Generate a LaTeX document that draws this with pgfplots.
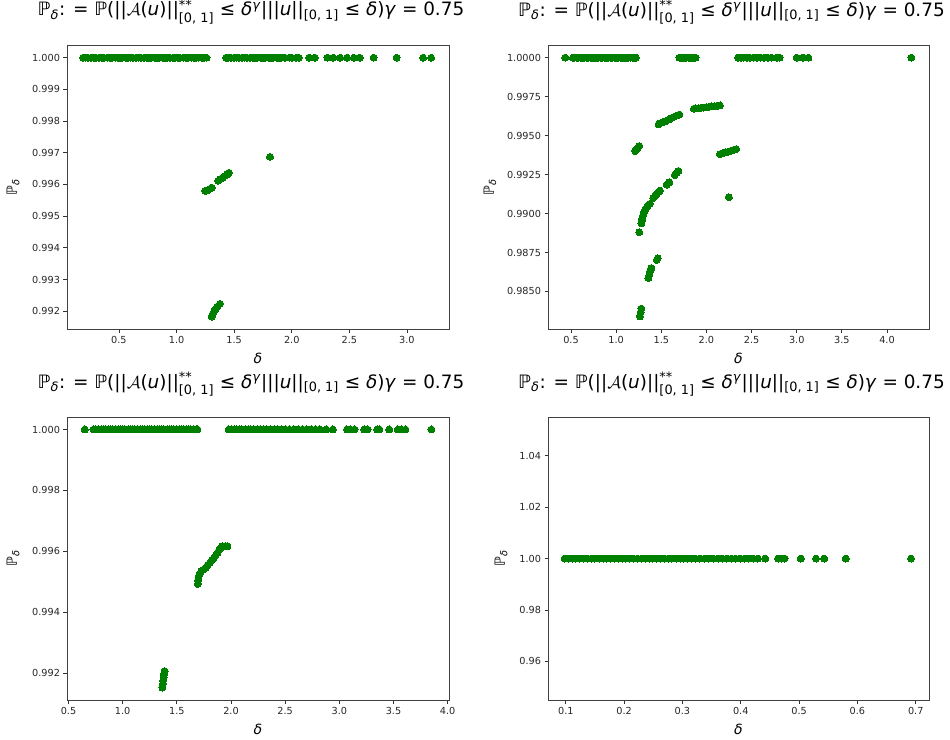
\documentclass[border=0pt]{standalone}
\usepackage{amsmath,amssymb}
\usepackage{fontspec}
\setmainfont{DejaVu Sans}
\usepackage{pgfplots}
\pgfplotsset{compat=1.18}

\definecolor{mplgreen}{HTML}{008000}

\newcommand{\dl}{\textit{δ}}
\newcommand{\gm}{\textit{γ}}
\newcommand{\ttl}{ℙ$_{\text{\dl}}$: = ℙ(||$\mathcal{A}$(\textit{u})||$^{\text{**}}_{\text{[0, 1]}}$ ≤ \dl$^{\text{\gm}}$|||\textit{u}||$_{\text{[0, 1]}}$ ≤ \dl)\gm{} = 0.75}

\pgfplotsset{
  mpl/.style={
    scale only axis,
    axis line style={black!75, line width=0.9pt},
    tick style={black!80, line width=0.8pt},
    tick align=outside, major tick length=3.5pt,
    xtick pos=bottom, ytick pos=left,
    ticklabel style={font=\fontsize{9.7}{11}\selectfont, text=black!85},
    /pgf/number format/assume math mode=true,
    scaled ticks=false,
    xlabel={\dl}, ylabel={ℙ$_{\text{\dl}}$},
    label style={font=\fontsize{14}{16}\selectfont},
    xlabel style={at={(axis description cs:0.5,0)}, anchor=base, yshift=-34pt},
    title={\ttl},
    title style={font=\fontsize{18.4}{21}\selectfont, at={(axis description cs:0.5,1)},
      anchor=base, yshift=23pt, xshift=-7pt, inner sep=0pt},
  },
  dots/.style={only marks, mark=*, mark size=3.5pt,
    mark options={fill=mplgreen, draw=mplgreen, line width=0pt}},
}

\begin{document}
\begin{tikzpicture}
\path[use as bounding box] (0,0) rectangle (950pt,-739pt);

% ---------- top left ----------
\begin{axis}[mpl, at={(67pt,-329pt)}, anchor=south west, width=382pt, height=284pt,
  xmin=0.049, xmax=3.365, ymin=0.99144, ymax=1.0004,
  xtick={0.5,1.0,1.5,2.0,2.5,3.0},
  ytick={0.992,0.993,0.994,0.995,0.996,0.997,0.998,0.999,1.000},
  xticklabel style={/pgf/number format/.cd, fixed, fixed zerofill, precision=1},
  yticklabel style={/pgf/number format/.cd, fixed, fixed zerofill, precision=3},
  ylabel style={at={(axis description cs:-0.131,0.5)}, anchor=base}]
\addplot[dots] coordinates {
(0.19,1)(0.21,1)(0.23,1)(0.26,1)(0.28,1)(0.30,1)(0.33,1)(0.35,1)(0.37,1)(0.40,1)
(0.42,1)(0.44,1)(0.47,1)(0.49,1)(0.51,1)(0.53,1)(0.56,1)(0.58,1)(0.60,1)(0.62,1)
(0.65,1)(0.67,1)(0.69,1)(0.72,1)(0.74,1)(0.76,1)(0.78,1)(0.81,1)(0.83,1)(0.85,1)
(0.88,1)(0.90,1)(0.92,1)(0.94,1)(0.97,1)(0.99,1)(1.01,1)(1.03,1)(1.06,1)(1.08,1)
(1.10,1)(1.13,1)(1.15,1)(1.17,1)(1.19,1)(1.22,1)(1.24,1)(1.26,1)
(1.43,1)(1.45,1)(1.47,1)(1.50,1)(1.52,1)(1.54,1)(1.57,1)(1.59,1)(1.61,1)(1.64,1)
(1.66,1)(1.68,1)(1.70,1)(1.73,1)(1.75,1)(1.77,1)(1.80,1)(1.82,1)(1.84,1)(1.87,1)
(1.89,1)(1.91,1)(1.94,1)(1.98,1)(2.00,1)(2.04,1)(2.06,1)(2.15,1)(2.20,1)
(2.31,1)(2.36,1)(2.42,1)(2.48,1)(2.54,1)(2.59,1)(2.71,1)(2.91,1)(3.14,1)(3.21,1)
(1.25,0.99580)(1.27,0.99582)(1.29,0.99586)(1.305,0.99590)
(1.36,0.99612)(1.38,0.99617)(1.40,0.99622)(1.42,0.99627)(1.44,0.99632)(1.455,0.99637)
(1.305,0.99183)(1.315,0.99192)(1.325,0.99200)(1.34,0.99208)(1.355,0.99215)(1.375,0.99223)
(1.811,0.99687)
};
\end{axis}

% ---------- top right ----------
\begin{axis}[mpl, at={(548pt,-329pt)}, anchor=south west, width=381pt, height=284pt,
  xmin=0.245, xmax=4.465, ymin=0.98259, ymax=1.00081,
  xtick={0.5,1.0,1.5,2.0,2.5,3.0,3.5,4.0},
  ytick={0.985,0.9875,0.99,0.9925,0.995,0.9975,1.0},
  xticklabel style={/pgf/number format/.cd, fixed, fixed zerofill, precision=1},
  yticklabel style={/pgf/number format/.cd, fixed, fixed zerofill, precision=4},
  ylabel style={at={(axis description cs:-0.142,0.5)}, anchor=base}]
\addplot[dots] coordinates {
(0.437,1)(0.52,1)(0.54,1)(0.56,1)(0.58,1)(0.61,1)(0.63,1)(0.65,1)(0.67,1)(0.69,1)
(0.72,1)(0.74,1)(0.76,1)(0.78,1)(0.80,1)(0.83,1)(0.85,1)(0.87,1)(0.89,1)(0.91,1)
(0.94,1)(0.96,1)(0.98,1)(1.00,1)(1.02,1)(1.05,1)(1.07,1)(1.09,1)(1.11,1)(1.13,1)
(1.16,1)(1.18,1)(1.20,1)(1.22,1)
(1.70,1)(1.72,1)(1.74,1)(1.76,1)(1.78,1)(1.80,1)(1.82,1)(1.84,1)(1.86,1)(1.88,1)
(2.35,1)(2.38,1)(2.41,1)(2.45,1)(2.48,1)(2.52,1)(2.56,1)(2.60,1)(2.64,1)(2.68,1)
(2.72,1)(2.78,1)(2.81,1)(3.00,1)(3.07,1)(3.13,1)(4.27,1)
(1.86,0.99672)(1.88,0.99674)(1.91,0.99676)(1.94,0.99678)(1.97,0.99680)(2.00,0.99682)
(2.03,0.99685)(2.06,0.99687)(2.09,0.99689)(2.12,0.99691)(2.15,0.99693)
(1.47,0.99573)(1.49,0.99580)(1.52,0.99587)(1.55,0.99593)(1.58,0.99602)(1.61,0.99612)
(1.64,0.99620)(1.67,0.99628)(1.70,0.99635)
(1.21,0.99401)(1.225,0.99412)(1.24,0.99423)(1.256,0.99433)
(2.15,0.99381)(2.18,0.99386)(2.21,0.99392)(2.24,0.99397)(2.27,0.99402)(2.30,0.99408)(2.33,0.99413)
(1.65,0.99247)(1.67,0.99260)(1.69,0.99273)
(1.56,0.99185)(1.59,0.99200)
(1.41,0.99098)(1.43,0.99112)(1.45,0.99128)(1.47,0.99140)(1.485,0.99147)
(1.28,0.98938)(1.29,0.98965)(1.30,0.98990)(1.31,0.99010)(1.325,0.99030)(1.345,0.99045)(1.37,0.99061)
(1.256,0.98880)
(1.45,0.98702)(1.46,0.98712)
(1.356,0.98586)(1.365,0.98605)(1.375,0.98630)(1.39,0.98650)
(1.263,0.98340)(1.27,0.98365)(1.28,0.98390)
(2.249,0.99104)
};
\end{axis}

% ---------- bottom left ----------
\begin{axis}[mpl, at={(67pt,-700pt)}, anchor=south west, width=382pt, height=283pt,
  xmin=0.486, xmax=4.012, ymin=0.99112, ymax=1.00041,
  xtick={0.5,1.0,1.5,2.0,2.5,3.0,3.5,4.0},
  ytick={0.992,0.994,0.996,0.998,1.000},
  xticklabel style={/pgf/number format/.cd, fixed, fixed zerofill, precision=1},
  yticklabel style={/pgf/number format/.cd, fixed, fixed zerofill, precision=3},
  ylabel style={at={(axis description cs:-0.131,0.5)}, anchor=base}]
\addplot[dots] coordinates {
(0.65,1)(0.73,1)(0.75,1)(0.78,1)(0.80,1)(0.82,1)(0.84,1)(0.87,1)(0.89,1)(0.91,1)
(0.93,1)(0.96,1)(0.98,1)(1.00,1)(1.02,1)(1.05,1)(1.07,1)(1.09,1)(1.11,1)(1.14,1)
(1.16,1)(1.18,1)(1.20,1)(1.23,1)(1.25,1)(1.27,1)(1.29,1)(1.32,1)(1.34,1)(1.36,1)
(1.38,1)(1.41,1)(1.43,1)(1.45,1)(1.47,1)(1.50,1)(1.52,1)(1.54,1)(1.56,1)(1.59,1)
(1.61,1)(1.63,1)(1.65,1)(1.68,1)(1.69,1)
(1.98,1)(2.00,1)(2.03,1)(2.05,1)(2.08,1)(2.10,1)(2.13,1)(2.16,1)(2.18,1)(2.21,1)
(2.24,1)(2.27,1)(2.30,1)(2.33,1)(2.36,1)(2.40,1)(2.43,1)(2.47,1)(2.50,1)(2.54,1)
(2.58,1)(2.62,1)(2.66,1)(2.70,1)(2.74,1)(2.78,1)(2.82,1)(2.88,1)(2.94,1)
(3.07,1)(3.10,1)(3.14,1)(3.23,1)(3.26,1)(3.35,1)(3.37,1)(3.46,1)(3.54,1)(3.57,1)
(3.61,1)(3.85,1)
(1.367,0.99153)(1.370,0.99165)(1.373,0.99176)(1.377,0.99187)(1.381,0.99197)(1.386,0.99207)
(1.693,0.99493)(1.695,0.99505)(1.700,0.99516)(1.710,0.99526)(1.725,0.99535)(1.745,0.99540)
(1.765,0.99546)(1.785,0.99555)(1.805,0.99563)(1.822,0.99571)(1.84,0.99578)(1.86,0.99588)
(1.875,0.99595)(1.89,0.99604)(1.905,0.99612)(1.92,0.99617)(1.945,0.99617)(1.967,0.99617)
};
\end{axis}

% ---------- bottom right ----------
\begin{axis}[mpl, at={(548pt,-700pt)}, anchor=south west, width=381pt, height=283pt,
  xmin=0.0695, xmax=0.7227, ymin=0.945, ymax=1.055,
  xtick={0.1,0.2,0.3,0.4,0.5,0.6,0.7},
  ytick={0.96,0.98,1.00,1.02,1.04},
  xticklabel style={/pgf/number format/.cd, fixed, fixed zerofill, precision=1},
  yticklabel style={/pgf/number format/.cd, fixed, fixed zerofill, precision=2},
  ylabel style={at={(axis description cs:-0.113,0.5)}, anchor=base}]
\addplot[dots] coordinates {
(0.098,1)(0.104,1)(0.111,1)(0.117,1)(0.124,1)(0.131,1)(0.137,1)(0.144,1)(0.150,1)
(0.157,1)(0.164,1)(0.170,1)(0.177,1)(0.183,1)(0.190,1)(0.197,1)(0.203,1)(0.210,1)
(0.216,1)(0.223,1)(0.230,1)(0.236,1)(0.243,1)(0.249,1)(0.256,1)(0.263,1)(0.269,1)
(0.276,1)(0.282,1)(0.289,1)(0.296,1)(0.302,1)(0.309,1)(0.315,1)(0.322,1)(0.330,1)
(0.338,1)(0.345,1)(0.353,1)(0.361,1)(0.368,1)(0.376,1)(0.384,1)(0.391,1)(0.399,1)
(0.407,1)(0.414,1)(0.421,1)(0.429,1)
(0.442,1)(0.464,1)(0.470,1)(0.475,1)(0.503,1)(0.529,1)(0.543,1)(0.580,1)(0.692,1)
};
\end{axis}
\end{tikzpicture}
\end{document}
